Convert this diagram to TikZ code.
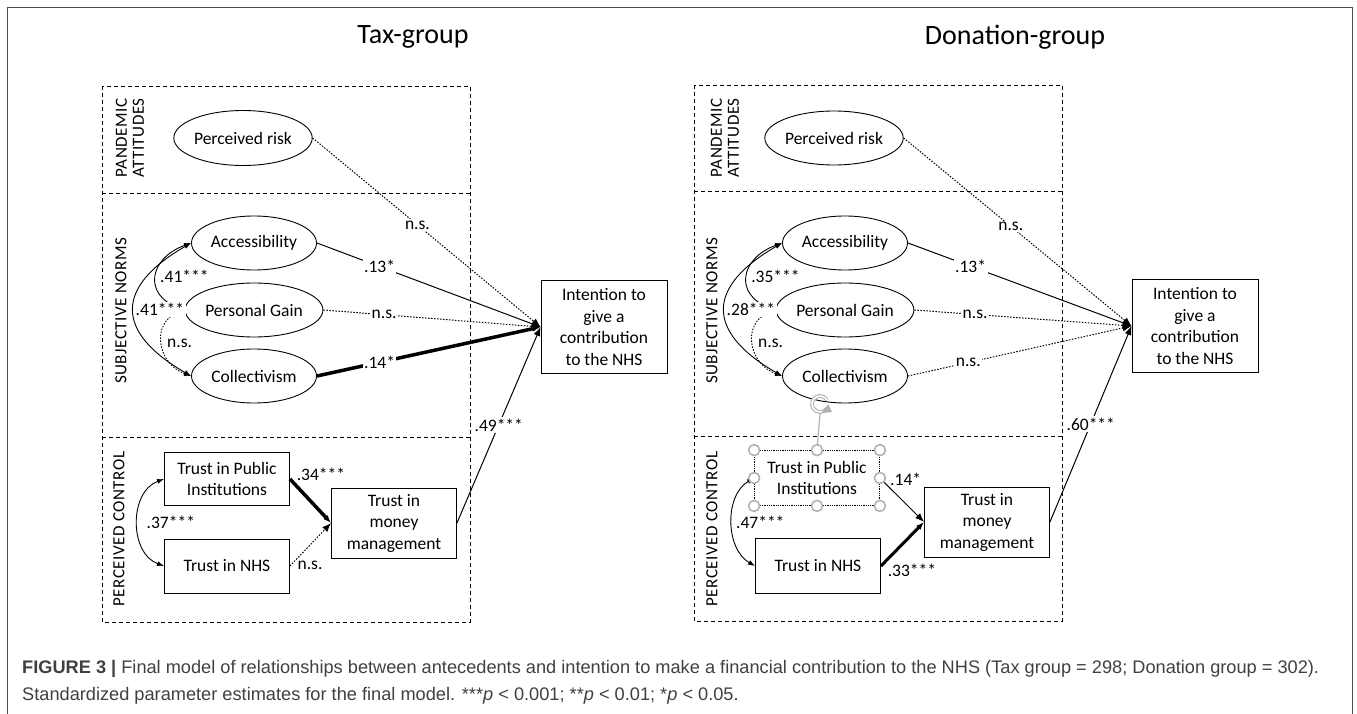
\documentclass[tikz,border=0pt]{standalone}
\usepackage{fontspec}
\setmainfont{Carlito}
\newfontfamily\secfont[LetterSpace=3]{Carlito}
\newfontfamily\capfont{Liberation Sans}
\usetikzlibrary{shapes.geometric,arrows.meta}
\newcommand\dfont{\fontsize{17.5}{21.5}\selectfont}
\tikzset{
  latent/.style={ellipse, draw, line width=0.9pt, minimum width=125pt, minimum height=54pt, inner sep=0pt, font=\dfont},
  observed/.style={rectangle, draw, line width=0.9pt, minimum width=125pt, inner sep=2pt, align=center, font=\dfont},
  group/.style={draw, line width=0.8pt, dash pattern=on 4pt off 3pt},
  section/.style={rotate=90, align=center, font=\secfont\fontsize{17}{17}\selectfont},
  coef/.style={fill=white, inner sep=1.5pt, font=\dfont},
  sig/.style={line width=1pt, -{Latex[length=9pt,width=7pt]}},
  ns/.style={line width=1pt, dash pattern=on 1.5pt off 1.5pt, -{Latex[length=9pt,width=7pt]}},
  strong/.style={line width=3.5pt, -{Latex[length=8pt,width=6pt]}},
  cov/.style={line width=0.9pt, {Latex[length=7pt,width=5pt]}-{Latex[length=7pt,width=5pt]}},
  handle/.style={draw=gray!60, fill=white, line width=1.6pt}
}

\begin{document}
\begin{tikzpicture}[x=1pt,y=1pt]
\useasboundingbox (0,0) rectangle (1357,-714);
\draw[line width=1pt, black!70] (7,-714) -- (7,-8) -- (1352,-8) -- (1352,-714);

% Tax group
\node[font=\fontsize{28}{32}\selectfont] (titleL) at (413,-37) {Tax-group};
\draw[group] (102,-86) rectangle (470,-622);
\draw[group] (102,-193) -- (470,-193);
\draw[group] (102,-437) -- (470,-437);
\node[section] (paL) at (130,-138) {PANDEMIC\\ATTITUDES};
\node[section] (snL) at (121,-311) {SUBJECTIVE NORMS};
\node[section] (pcL) at (119,-529) {PERCEIVED CONTROL};

\node[latent, minimum width=127pt, minimum height=55pt] (riskL) at (243,-138) {Perceived risk};
\node[latent] (accL) at (254,-243) {Accessibility};
\node[latent] (gainL) at (254,-310) {Personal Gain};
\node[latent] (collL) at (254,-376) {Collectivism};
\node[observed, minimum width=126pt, minimum height=93pt] (intL) at (604,-327) {Intention to\\give a\\contribution\\to the NHS};
\node[observed, minimum height=53pt] (tpiL) at (227,-479) {Trust in Public\\Institutions};
\node[observed, minimum height=54pt] (nhsL) at (227,-566) {Trust in NHS};
\node[observed, minimum height=70pt] (tmmL) at (394,-523) {Trust in\\money\\management};

\draw[ns] (riskL.east) -- node[coef, pos=0.46] {n.s.} (intL.west);
\draw[sig] (accL.east) -- node[coef, pos=0.28] {.13*} (intL.west);
\draw[ns] (gainL.east) -- node[coef, pos=0.28] {n.s.} (intL.west);
\draw[strong] (collL.east) -- node[coef, pos=0.28] {.14*} (intL.west);
\draw[sig] (tmmL.east) -- node[coef, pos=0.5] {.49***} (intL.west);

\draw[cov, dash pattern=on 1.5pt off 1.5pt] (gainL.west) to[out=200, in=160, looseness=1.4] node[coef, pos=0.5, anchor=west, xshift=3pt] {n.s.} (collL.west);
\draw[cov] (accL.west) to[out=200, in=160, looseness=1.7] node[coef, pos=0.5, anchor=west, xshift=2pt] {.41***} (gainL.west);
\draw[cov] (accL.west) to[out=210, in=150, looseness=1.7] node[coef, pos=0.5, anchor=west] {.41***} (collL.west);

\draw[strong] (tpiL.east) -- node[font=\dfont, pos=0.1, anchor=south west, inner sep=1pt] {.34***} (tmmL.west);
\draw[ns] (nhsL.east) -- node[font=\dfont, pos=0.15, anchor=north west, inner sep=1pt] {n.s.} (tmmL.west);
\draw[cov] (tpiL.west) to[out=200, in=160, looseness=1.1] node[coef, pos=0.5, anchor=west, xshift=7pt] {.37***} (nhsL.west);

% Donation group
\node[font=\fontsize{28}{32}\selectfont] (titleR) at (1015,-37) {Donation-group};
\draw[group] (694,-85) rectangle (1062,-621);
\draw[group] (694,-191) -- (1062,-191);
\draw[group] (694,-436) -- (1062,-436);
\node[section] (paR) at (725,-138) {PANDEMIC\\ATTITUDES};
\node[section] (snR) at (712,-311) {SUBJECTIVE NORMS};
\node[section] (pcR) at (712,-529) {PERCEIVED CONTROL};

\node[latent] (riskR) at (834,-138) {Perceived risk};
\node[latent] (accR) at (845,-243) {Accessibility};
\node[latent] (gainR) at (845,-310) {Personal Gain};
\node[latent] (collR) at (845,-376) {Collectivism};
\node[observed, minimum width=126pt, minimum height=93pt] (intR) at (1195,-326) {Intention to\\give a\\contribution\\to the NHS};
\node[observed, minimum height=55pt, line width=0.8pt, densely dotted] (tpiR) at (817,-478) {Trust in Public\\Institutions};
\node[observed, minimum height=55pt] (nhsR) at (818,-566) {Trust in NHS};
\node[observed, minimum height=70pt] (tmmR) at (987,-522) {Trust in\\money\\management};

\draw[ns] (riskR.east) -- node[coef, pos=0.47] {n.s.} (intR.west);
\draw[sig] (accR.east) -- node[coef, pos=0.28] {.13*} (intR.west);
\draw[ns] (gainR.east) -- node[coef, pos=0.28] {n.s.} (intR.west);
\draw[ns] (collR.east) -- node[coef, pos=0.27] {n.s.} (intR.west);
\draw[sig] (tmmR.east) -- node[coef, pos=0.5] {.60***} (intR.west);

\draw[cov, dash pattern=on 1.5pt off 1.5pt] (gainR.west) to[out=200, in=160, looseness=1.4] node[coef, pos=0.5, anchor=west, xshift=3pt] {n.s.} (collR.west);
\draw[cov] (accR.west) to[out=200, in=160, looseness=1.7] node[coef, pos=0.5, anchor=west, xshift=2pt] {.35***} (gainR.west);
\draw[cov] (accR.west) to[out=210, in=150, looseness=1.7] node[coef, pos=0.5, anchor=west] {.28***} (collR.west);

\draw[sig] (tpiR.east) -- node[font=\dfont, pos=0.2, anchor=south west, inner sep=1pt] {.14*} (tmmR.west);
\draw[strong, line width=3pt] (nhsR.east) -- node[font=\dfont, pos=0.1, anchor=north west, inner sep=1pt] {.33***} (tmmR.west);
\draw[cov] (tpiR.west) to[out=210, in=150, looseness=1] node[coef, pos=0.5, anchor=west, xshift=2pt] {.47***} (nhsR.west);

\coordinate (rotR) at (820,-404);
\draw[gray!60, line width=1.2pt] (tpiR.north) -- ([yshift=-10pt]rotR);
\draw[gray!60, line width=1.1pt, double=white, double distance=1.6pt] ([shift={(30:8)}]rotR) arc (30:320:8);
\fill[gray!60] ([shift={(320:8)}]rotR) ++(-5,-4) -- ++(11,1) -- ++(-4,8) -- cycle;
\foreach \a in {north west,north,north east,west,east,south west,south,south east}
  \draw[handle] (tpiR.\a) circle (5.5pt);

% caption
\node[anchor=base west, font=\capfont\fontsize{18.2}{20}\selectfont, text=black!75, inner sep=0pt] (cap1) at (22,-673)
  {\textbf{FIGURE 3 |} Final model of relationships between antecedents and intention to make a financial contribution to the NHS (Tax group = 298; Donation group = 302).};
\node[anchor=base west, font=\capfont\fontsize{18.2}{20}\selectfont, text=black!75, inner sep=0pt] (cap2) at (22,-700)
  {Standardized parameter estimates for the final model. ***\textit{p} < 0.001; **\textit{p} < 0.01; *\textit{p} < 0.05.};
\end{tikzpicture}
\end{document}
